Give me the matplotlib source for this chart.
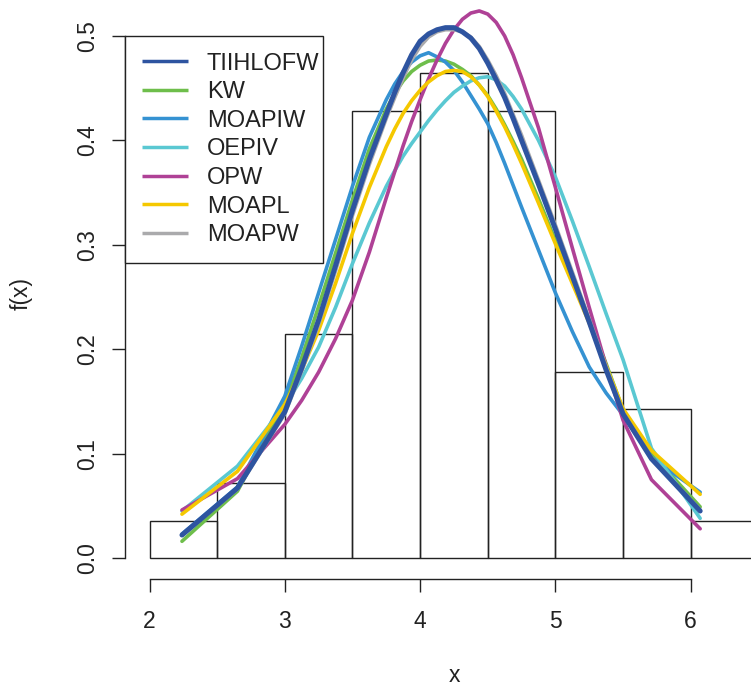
import matplotlib
matplotlib.use("Agg")
import matplotlib.pyplot as plt
from matplotlib.patches import Rectangle
from matplotlib.transforms import IdentityTransform
import numpy as np

plt.rcParams['font.family'] = ['Liberation Sans', 'DejaVu Sans']

# ---- data ----
bin_edges = [2.0, 2.5, 3.0, 3.5, 4.0, 4.5, 5.0, 5.5, 6.0, 6.5]
bin_heights = [0.0357, 0.0714, 0.2143, 0.4286, 0.4643, 0.4286, 0.1786, 0.1429, 0.0357]

xs = [2.24, 2.65, 3.0, 3.125, 3.25, 3.375, 3.5, 3.625, 3.75,
      3.8125, 3.875, 3.9375, 4.0, 4.0625, 4.125, 4.1875, 4.25,
      4.3125, 4.375, 4.4375, 4.5, 4.5625, 4.625, 4.6875, 4.75,
      4.875, 5.0, 5.125, 5.25, 5.375, 5.5, 5.71, 6.07]

TIIHLOFW = [0.022, 0.067, 0.140, 0.182, 0.228, 0.280, 0.333, 0.382, 0.425,
            0.446, 0.465, 0.482, 0.495, 0.502, 0.506, 0.508, 0.508,
            0.504, 0.498, 0.488, 0.474, 0.458, 0.441, 0.421, 0.400,
            0.358, 0.315, 0.270, 0.226, 0.180, 0.138, 0.095, 0.045]
KW       = [0.016, 0.064, 0.148, 0.192, 0.241, 0.292, 0.343, 0.392, 0.430,
            0.445, 0.457, 0.466, 0.472, 0.476, 0.477, 0.476, 0.473,
            0.468, 0.462, 0.453, 0.443, 0.430, 0.415, 0.399, 0.382,
            0.344, 0.304, 0.267, 0.228, 0.186, 0.142, 0.100, 0.049]
MOAPIW   = [0.023, 0.068, 0.155, 0.203, 0.254, 0.305, 0.356, 0.403, 0.439,
            0.454, 0.466, 0.475, 0.481, 0.484, 0.480, 0.475, 0.467,
            0.456, 0.443, 0.430, 0.416, 0.398, 0.378, 0.357, 0.336,
            0.295, 0.254, 0.217, 0.183, 0.158, 0.137, 0.096, 0.063]
OEPIV    = [0.045, 0.088, 0.146, 0.172, 0.202, 0.240, 0.282, 0.321, 0.356,
            0.371, 0.385, 0.397, 0.408, 0.419, 0.429, 0.438, 0.446,
            0.452, 0.457, 0.460, 0.461, 0.458, 0.452, 0.442, 0.430,
            0.400, 0.365, 0.323, 0.279, 0.234, 0.190, 0.105, 0.038]
OPW      = [0.046, 0.076, 0.128, 0.151, 0.178, 0.210, 0.247, 0.293, 0.345,
            0.370, 0.395, 0.418, 0.439, 0.459, 0.477, 0.493, 0.506,
            0.516, 0.522, 0.524, 0.521, 0.513, 0.500, 0.482, 0.460,
            0.412, 0.355, 0.297, 0.240, 0.184, 0.132, 0.075, 0.028]
MOAPL    = [0.042, 0.083, 0.147, 0.180, 0.218, 0.263, 0.311, 0.355, 0.394,
            0.411, 0.426, 0.438, 0.448, 0.456, 0.462, 0.466, 0.467,
            0.466, 0.461, 0.453, 0.442, 0.428, 0.413, 0.396, 0.378,
            0.340, 0.301, 0.263, 0.225, 0.184, 0.143, 0.103, 0.061]
MOAPW    = [0.022, 0.066, 0.138, 0.179, 0.224, 0.275, 0.328, 0.377, 0.421,
            0.441, 0.460, 0.477, 0.490, 0.499, 0.504, 0.506, 0.506,
            0.504, 0.499, 0.490, 0.477, 0.462, 0.445, 0.425, 0.405,
            0.362, 0.319, 0.274, 0.229, 0.183, 0.139, 0.096, 0.046]

names = ["TIIHLOFW", "KW", "MOAPIW", "OEPIV", "OPW", "MOAPL", "MOAPW"]
series = [TIIHLOFW, KW, MOAPIW, OEPIV, OPW, MOAPL, MOAPW]
colors = ["#2E54A0", "#6EBE4B", "#3592D2", "#5AC8D2", "#AF4196", "#F5C800", "#AAAAAC"]

x_ticks = [2, 3, 4, 5, 6]
y_ticks = [0.0, 0.1, 0.2, 0.3, 0.4, 0.5]
y_tick_labels = ["0.0", "0.1", "0.2", "0.3", "0.4", "0.5"]

# ---- layout ----
W, H = 751, 688
fig = plt.figure(figsize=(W / 100, H / 100), dpi=100)
ax_left, ax_bottom = 125, 579
ax = fig.add_axes([ax_left / W, (H - ax_bottom) / H, (W - ax_left) / W, ax_bottom / H])

x0px, xscale = 149.5, 135.3
y0px, yscale = 558.0, 1044.0
ax.set_xlim(2 - (x0px - ax_left) / xscale, 2 + (W - x0px) / xscale)
ax.set_ylim(-(ax_bottom - y0px) / yscale, y0px / yscale)

ink = "#222222"

# histogram
ax.bar(bin_edges[:-1], bin_heights, width=np.diff(bin_edges), align='edge',
       fill=False, edgecolor=ink, linewidth=1.0, zorder=1)

# curves (TIIHLOFW last and thicker, MOAPW under it)
order = [1, 2, 3, 4, 5, 6, 0]
handles = {}
for i in order:
    lw = 3.6 if i == 0 else 2.6
    ln, = ax.plot(xs, series[i], color=colors[i], lw=lw, solid_capstyle='round',
                  solid_joinstyle='round', label=names[i], zorder=2 + order.index(i))
    handles[i] = ln

# axes styling
for s in ['top', 'right']:
    ax.spines[s].set_visible(False)
ax.spines['left'].set_bounds(0, 0.5)
ax.spines['bottom'].set_bounds(2, 6)
for s in ['left', 'bottom']:
    ax.spines[s].set_color(ink)
    ax.spines[s].set_linewidth(1.0)

ax.set_xticks(x_ticks)
ax.set_xticklabels([str(v) for v in x_ticks])
ax.set_yticks(y_ticks)
ax.set_yticklabels(y_tick_labels, rotation=90, va='center')
ax.tick_params(axis='both', direction='out', length=9.5, width=1.0, color=ink,
               labelsize=16.5, labelcolor=ink)
ax.tick_params(axis='x', pad=12.5)
ax.tick_params(axis='y', pad=9)

ax.set_xlabel("x", fontsize=16.5, color=ink)
ax.set_ylabel("f(x)", fontsize=16.5, color=ink)
ax.xaxis.set_label_coords((454 - ax_left) / (W - ax_left), (ax_bottom - 676) / ax_bottom)
ax.xaxis.label.set_va('center')
ax.yaxis.set_label_coords((21.5 - ax_left) / (W - ax_left), (ax_bottom - 293) / ax_bottom)
ax.yaxis.label.set_va('center')

leg = ax.legend([handles[i] for i in range(7)], names,
                loc='upper left', bbox_to_anchor=(ax_left / W, 1 - 36 / H),
                bbox_transform=fig.transFigure, borderaxespad=0,
                frameon=False, fontsize=17, handlelength=1.95, handletextpad=0.82,
                labelspacing=0.28, borderpad=0.7)
for t in leg.get_texts():
    t.set_color(ink)
for l in leg.get_lines():
    l.set_linewidth(2.5)
    l.set_solid_capstyle('butt')
leg.set_zorder(20)

# legend frame: tight on the right side like R's legend box
fig.canvas.draw()
renderer = fig.canvas.get_renderer()
lbb = leg.get_window_extent(renderer)
text_right = max(t.get_window_extent(renderer).x1 for t in leg.get_texts())
frame = Rectangle((lbb.x0, lbb.y0), (text_right + 4) - lbb.x0, lbb.height,
                  transform=IdentityTransform(), facecolor='white',
                  edgecolor=ink, linewidth=1.0, zorder=19)
ax.add_artist(frame)
frame.set_clip_on(False)

fig.savefig("out.png", dpi=100)
